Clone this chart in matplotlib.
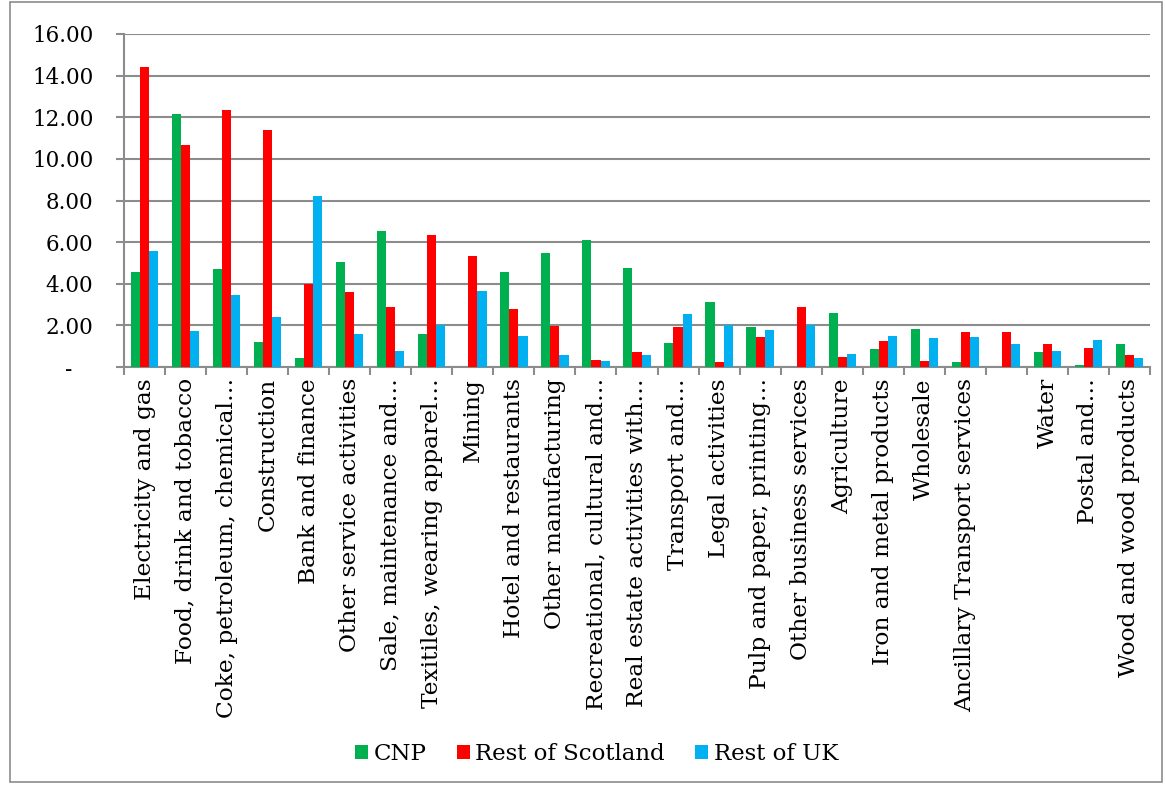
import matplotlib.pyplot as plt
import numpy as np
from matplotlib.patches import Rectangle

# sectors, in the order shown on the chart
sectors = ["Electricity and gas", "Food, drink and tobacco", "Coke, petroleum, chemical\u2026",
           "Construction", "Bank and finance", "Other service activities",
           "Sale, maintenance and\u2026", "Texitiles, wearing apparel\u2026", "Mining",
           "Hotel and restaurants", "Other manufacturing", "Recreational, cultural and\u2026",
           "Real estate activities with\u2026", "Transport and\u2026", "Legal activities",
           "Pulp and paper, printing\u2026", "Other business services", "Agriculture",
           "Iron and metal products", "Wholesale", "Ancillary Transport services",
           "", "Water", "Postal and\u2026", "Wood and wood products"]

cnp = [4.55, 12.14, 4.71, 1.20, 0.45, 5.06, 6.55, 1.59, 0.00, 4.58, 5.49, 6.12,
       4.74, 1.14, 3.14, 1.94, 0.00, 2.60, 0.88, 1.84, 0.22, 0.00, 0.72, 0.10, 1.09]
rest_scotland = [14.41, 10.67, 12.35, 11.39, 3.99, 3.62, 2.90, 6.36, 5.35, 2.80, 1.97, 0.33,
                 0.70, 1.94, 0.24, 1.44, 2.90, 0.46, 1.23, 0.30, 1.68, 1.67, 1.11, 0.90, 0.58]
rest_uk = [5.59, 1.71, 3.48, 2.42, 8.23, 1.60, 0.77, 2.03, 3.65, 1.51, 0.59, 0.29,
           0.56, 2.55, 2.02, 1.78, 2.00, 0.61, 1.49, 1.38, 1.44, 1.09, 0.77, 1.30, 0.43]

series_names = ["CNP", "Rest of Scotland", "Rest of UK"]
colors = ["#00B050", "#FF0000", "#00B0F0"]

plt.rcParams['font.family'] = ['DejaVu Serif']
grey = "#8c8c8c"

fig = plt.figure(figsize=(11.65, 7.85), dpi=100)
ax = fig.add_axes([124 / 1165, 1 - 367 / 785, (1150 - 124) / 1165, (367 - 34) / 785])

## outer chart border
fig.patches.append(Rectangle((10 / 1165, 3 / 785), 1152 / 1165, 780 / 785,
                             transform=fig.transFigure, fill=False,
                             edgecolor=grey, linewidth=1.2))

x = np.arange(len(sectors))
w = 0.222
for k, vals in enumerate([cnp, rest_scotland, rest_uk]):
    ax.bar(x + (k - 1) * w, vals, width=w, color=colors[k], label=series_names[k],
           zorder=3, linewidth=0)

## axes styling
ax.set_xlim(-0.5, len(sectors) - 0.5)
ax.set_ylim(0, 16)
ax.set_yticks(np.arange(0, 17, 2))
ax.set_yticklabels(["-   "] + [f"{v:.2f}" for v in np.arange(2, 17, 2)], fontsize=15.5)
ax.grid(axis='y', color=grey, linewidth=1.5, zorder=0)
for side in ['top', 'right']:
    ax.spines[side].set_visible(False)
for side in ['left', 'bottom']:
    ax.spines[side].set_color(grey)
    ax.spines[side].set_linewidth(1.5)
ax.tick_params(axis='y', length=6, width=1.5, color=grey, pad=16)

ax.set_xticks(x)
ax.set_xticklabels(sectors, rotation=90, fontsize=16.8, va='top')
ax.set_xticks(np.arange(-0.5, len(sectors), 1), minor=True)
ax.tick_params(axis='x', which='major', length=0, pad=8)
ax.tick_params(axis='x', which='minor', length=6, width=1.5, color=grey)

fig.legend(loc='center', bbox_to_anchor=(0.512, 1 - 754 / 785), ncol=3, frameon=False,
           fontsize=16.5, handlelength=0.57, handleheight=0.57, handletextpad=0.25,
           columnspacing=1.3)

fig.savefig("out.png", dpi=100)
